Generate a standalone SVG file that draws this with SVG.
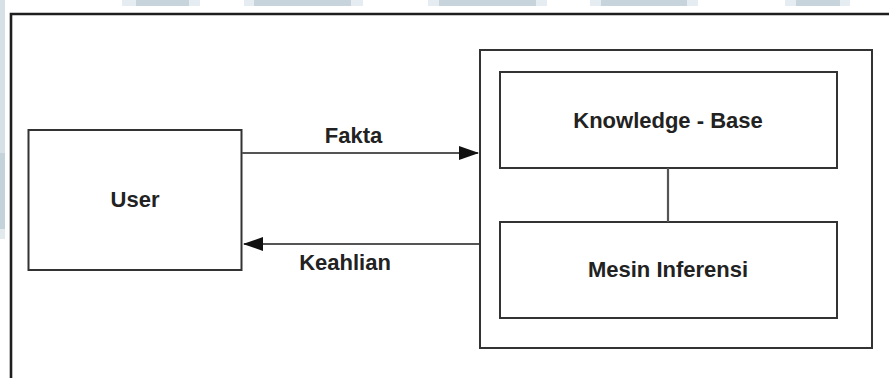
<svg xmlns="http://www.w3.org/2000/svg" width="889" height="378" viewBox="0 0 889 378">
  <style>
    .box { fill: #ffffff; stroke: #333333; stroke-width: 2; }
    .lbl { font-family: "Liberation Sans", Arial, sans-serif; font-weight: bold; font-size: 22px; fill: #222222; text-anchor: middle; }
    .conn { stroke: #555555; stroke-width: 2.2; fill: none; }
    .wm { fill: #c8d4dc; }
    .wml { fill: #e6edf2; }
  </style>
  <defs>
    <marker id="arrow" viewBox="0 0 20 14" refX="19" refY="7" markerWidth="20" markerHeight="14" markerUnits="userSpaceOnUse" orient="auto">
      <path d="M0,0 L20,7 L0,14 Z" fill="#111111"/>
    </marker>
  </defs>
  <rect x="0" y="0" width="889" height="378" fill="#ffffff"/>
  <g id="watermark">
    <rect class="wml" x="122" y="0" width="78" height="6"/>
    <rect class="wm" x="136" y="0" width="53" height="6"/>
    <rect class="wml" x="244" y="0" width="119" height="6"/>
    <rect class="wm" x="254" y="0" width="97" height="6"/>
    <rect class="wml" x="428" y="0" width="119" height="6"/>
    <rect class="wm" x="439" y="0" width="97" height="6"/>
    <rect class="wml" x="590" y="0" width="108" height="6"/>
    <rect class="wm" x="601" y="0" width="86" height="6"/>
    <rect class="wml" x="785" y="0" width="65" height="6"/>
    <rect class="wm" x="796" y="0" width="44" height="6"/>
    <rect x="0" y="0" width="5" height="153" fill="#d8e0e7"/>
    <rect x="0" y="153" width="5" height="76" fill="#c4d2d9"/>
    <rect x="0" y="229" width="5" height="10" fill="#e3eaee"/>
  </g>
  <g id="frame">
    <path d="M11,378 V14 H889" fill="none" stroke="#1e1e1e" stroke-width="2.6"/>
  </g>
  <g id="user">
    <rect class="box" x="28.5" y="130" width="213" height="140"/>
    <text class="lbl" x="135" y="207">User</text>
  </g>
  <g id="system">
    <rect class="box" x="480" y="50" width="392" height="298"/>
  </g>
  <g id="knowledge-base">
    <rect class="box" x="500" y="72" width="337" height="96"/>
    <text class="lbl" x="668" y="128">Knowledge - Base</text>
  </g>
  <g id="mesin-inferensi">
    <rect class="box" x="500" y="222" width="337" height="96"/>
    <text class="lbl" x="668" y="277">Mesin Inferensi</text>
  </g>
  <g id="connectors">
    <line class="conn" x1="242" y1="153" x2="478" y2="153" marker-end="url(#arrow)"/>
    <line class="conn" x1="479" y1="244" x2="244" y2="244" marker-end="url(#arrow)"/>
    <line class="conn" x1="668" y1="168" x2="668" y2="222"/>
    <text class="lbl" x="353.5" y="143">Fakta</text>
    <text class="lbl" x="345" y="270">Keahlian</text>
  </g>
</svg>
